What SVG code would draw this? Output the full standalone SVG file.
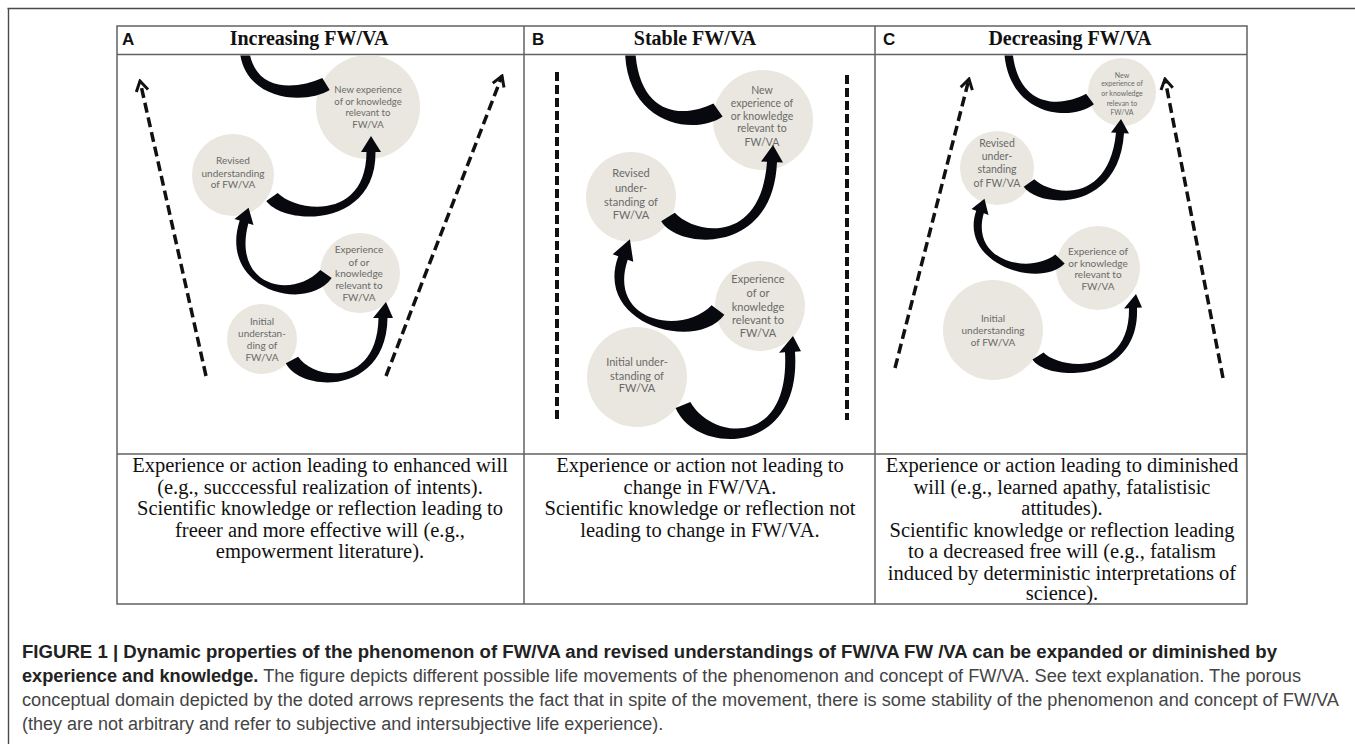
<svg xmlns="http://www.w3.org/2000/svg" width="1355" height="744" viewBox="0 0 1355 744">
<defs>
<style>
.frame{stroke:#4a4a4a;stroke-width:1.4;fill:none}
.tbl{stroke:#626262;stroke-width:1.5;fill:none}
.lbl{font-family:"Liberation Sans",Arial,sans-serif;font-weight:bold;font-size:17px;fill:#111}
.ttl{font-family:"Liberation Serif","Times New Roman",serif;font-weight:bold;font-size:20px;fill:#111;text-anchor:middle}
.body{font-family:"Liberation Serif","Times New Roman",serif;font-size:20.5px;fill:#111;text-anchor:middle}
.circ{fill:#e9e7df}
.ct{font-family:Lato,"Liberation Sans",sans-serif;fill:#6a6a6a;text-anchor:middle}
.arr{fill:#08080f}
.dash{stroke:#111;fill:none;stroke-width:3.5;stroke-dasharray:10 5}
.vdash{stroke:#111;fill:none;stroke-width:4;stroke-dasharray:9 4}
.cap{font-family:"Liberation Sans",Arial,sans-serif;font-size:18px;fill:#444}
.capb{font-weight:bold;fill:#222}
</style>
<marker id="chev" markerUnits="userSpaceOnUse" markerWidth="16" markerHeight="16" viewBox="0 0 16 16" refX="14" refY="8" orient="auto">
<path d="M4,2 L14,8 L4,14" fill="none" stroke="#111" stroke-width="3"/>
</marker>
<clipPath id="clipA"><rect x="118" y="55.5" width="405" height="398"/></clipPath>
<clipPath id="clipB"><rect x="525" y="55.5" width="349" height="398"/></clipPath>
<clipPath id="clipC"><rect x="876" y="55.5" width="370" height="398"/></clipPath>
</defs>

<g id="frame">
<line class="frame" x1="7.5" y1="8.5" x2="1355" y2="8.5"/>
<line class="frame" x1="8.5" y1="8" x2="8.5" y2="744"/>
</g>

<g id="table">
<rect class="tbl" x="117" y="26" width="1130" height="578"/>
<line class="tbl" x1="117" y1="54.5" x2="1247" y2="54.5"/>
<line class="tbl" x1="117" y1="454" x2="1247" y2="454"/>
<line class="tbl" x1="524" y1="26" x2="524" y2="604"/>
<line class="tbl" x1="875" y1="26" x2="875" y2="604"/>
</g>

<g id="headers">
<text class="lbl" x="122" y="45">A</text>
<text class="ttl" x="309" y="45">Increasing FW/VA</text>
<text class="lbl" x="532" y="45">B</text>
<text class="ttl" x="695" y="45">Stable FW/VA</text>
<text class="lbl" x="883" y="45">C</text>
<text class="ttl" x="1070" y="45">Decreasing FW/VA</text>
</g>

<!-- Panel A -->
<g id="panelA" clip-path="url(#clipA)">
<g id="A-new"><circle class="circ" cx="368" cy="107" r="52"/>
<text class="ct" font-size="9.5"><tspan x="368" y="93.3">New experience</tspan><tspan x="368" y="105.3">of or knowledge</tspan><tspan x="368" y="116.3">relevant to</tspan><tspan x="368" y="128.3">FW/VA</tspan></text></g>
<g id="A-revised"><circle class="circ" cx="233" cy="175" r="41"/>
<text class="ct" font-size="10"><tspan x="233" y="163.5">Revised</tspan><tspan x="233" y="176.5">understanding</tspan><tspan x="233" y="187.5">of FW/VA</tspan></text></g>
<g id="A-experience"><circle class="circ" cx="360" cy="273" r="40"/>
<text class="ct" font-size="10"><tspan x="359" y="252.5">Experience</tspan><tspan x="359" y="265.5">of or</tspan><tspan x="359" y="276.5">knowledge</tspan><tspan x="359" y="288.5">relevant to</tspan><tspan x="359" y="300.5">FW/VA</tspan></text></g>
<g id="A-initial"><circle class="circ" cx="262" cy="339" r="35"/>
<text class="ct" font-size="10"><tspan x="262" y="324.5">Initial</tspan><tspan x="262" y="336.5">understan-</tspan><tspan x="262" y="348.5">ding of</tspan><tspan x="262" y="360.5">FW/VA</tspan></text></g>
</g>

<!-- Panel B -->
<g id="panelB" clip-path="url(#clipB)">
<g id="B-new"><circle class="circ" cx="763" cy="120" r="50"/>
<text class="ct" font-size="10.5"><tspan x="762" y="93.7">New</tspan><tspan x="762" y="106.7">experience of</tspan><tspan x="762" y="119.7">or knowledge</tspan><tspan x="762" y="131.7">relevant to</tspan><tspan x="762" y="145.7">FW/VA</tspan></text></g>
<g id="B-revised"><circle class="circ" cx="631" cy="197" r="45"/>
<text class="ct" font-size="11"><tspan x="631" y="176.8">Revised</tspan><tspan x="631" y="191.8">under-</tspan><tspan x="631" y="205.8">standing of</tspan><tspan x="631" y="218.8">FW/VA</tspan></text></g>
<g id="B-experience"><circle class="circ" cx="760" cy="306" r="45"/>
<text class="ct" font-size="11"><tspan x="758" y="282.8">Experience</tspan><tspan x="758" y="296.8">of or</tspan><tspan x="758" y="310.8">knowledge</tspan><tspan x="758" y="323.8">relevant to</tspan><tspan x="758" y="336.8">FW/VA</tspan></text></g>
<g id="B-initial"><circle class="circ" cx="637" cy="377" r="50"/>
<text class="ct" font-size="11"><tspan x="637" y="365.8">Initial under-</tspan><tspan x="637" y="379.8">standing of</tspan><tspan x="637" y="391.8">FW/VA</tspan></text></g>
</g>

<!-- Panel C -->
<g id="panelC" clip-path="url(#clipC)">
<g id="C-new"><circle class="circ" cx="1122" cy="92" r="34"/>
<text class="ct" font-size="7"><tspan x="1122" y="77.5">New</tspan><tspan x="1122" y="85.5">experience of</tspan><tspan x="1122" y="95.5">or knowledge</tspan><tspan x="1122" y="105.5">relevan to</tspan><tspan x="1122" y="114.5">FW/VA</tspan></text></g>
<g id="C-revised"><circle class="circ" cx="997" cy="168" r="37"/>
<text class="ct" font-size="10.5"><tspan x="997" y="146.7">Revised</tspan><tspan x="997" y="159.7">under-</tspan><tspan x="997" y="172.7">standing</tspan><tspan x="997" y="186.7">of FW/VA</tspan></text></g>
<g id="C-experience"><circle class="circ" cx="1098" cy="268" r="42"/>
<text class="ct" font-size="10"><tspan x="1098" y="254.5">Experience of</tspan><tspan x="1098" y="266.5">or knowledge</tspan><tspan x="1098" y="277.5">relevant to</tspan><tspan x="1098" y="289.5">FW/VA</tspan></text></g>
<g id="C-initial"><circle class="circ" cx="993" cy="330" r="50"/>
<text class="ct" font-size="10"><tspan x="993" y="321.5">Initial</tspan><tspan x="993" y="333.5">understanding</tspan><tspan x="993" y="345.5">of FW/VA</tspan></text></g>
</g>

<g id="connectors">
<g clip-path="url(#clipA)">
<path class="arr" d="M285.8,363.3 C301.8,393.3 386.5,395 387.5,318 L393,318 L386,302 L373,318 L378.5,318 C377,388 314,380 298.2,356.7 Z"/>
<path class="arr" d="M331.7,278.1 C305.7,314.1 217.7,288.6 239.7,220.6 L234.5,218.9 L248.6,207.7 L253.5,225.1 L248.3,223.4 C232,286 291,300 320.3,269.9 Z"/>
<path class="arr" d="M266.3,201.1 C284.3,226.1 376.5,228 375.5,152 L381,152 L371,136 L361,152 L366.5,152 C366,221 297,212 277.7,192.9 Z"/>
<path class="arr" d="M329.7,90 C303.7,106 239.5,100 239.5,45 L248.5,45 C252,93 295,90 322.3,78 Z"/>
<line class="dash" x1="206" y1="376" x2="140" y2="81" marker-end="url(#chev)"/>
<line class="dash" x1="386" y1="376" x2="502" y2="76" marker-end="url(#chev)"/>
</g>
<g clip-path="url(#clipB)">
<path class="arr" d="M675.6,408.1 C695.6,455.1 802,457.7 795,351.7 L801,351.3 L793,336 L779,352.7 L785,352.3 C790,448 712,440 690.4,401.9 Z"/>
<path class="arr" d="M724.4,314.7 C696.4,352.7 593.3,324.3 618.3,256.3 L612.7,254.2 L629.9,239.2 L633.3,261.8 L627.7,259.7 C607,322 682,336 711.6,305.3 Z"/>
<path class="arr" d="M661.2,221.2 C678.2,249.2 773,256.2 777,162.2 L783,162.5 L773,145 L761,161.5 L767,161.8 C761,246 694,234 674.8,212.8 Z"/>
<path class="arr" d="M722.6,116.5 C694.6,136.5 623,125 625,45 L635,45 C637,118 684,118 713.4,103.5 Z"/>
<line class="vdash" x1="557" y1="72" x2="557" y2="420"/>
<line class="vdash" x1="847" y1="75" x2="847" y2="420"/>
</g>
<g clip-path="url(#clipC)">
<path class="arr" d="M1032.5,359.5 C1046.5,381.5 1140,384.8 1137,307.8 L1142,307.6 L1136,294 L1124,308.4 L1129,308.2 C1130,377 1059,369 1043.5,352.5 Z"/>
<path class="arr" d="M1064.7,263.5 C1039.7,289.5 958.2,263.7 976.2,210.7 L971.5,209.1 L984.5,198.7 L988.5,214.9 L983.8,213.3 C970,261 1029,275 1055.3,254.5 Z"/>
<path class="arr" d="M1023.7,186.8 C1039.7,208.8 1119,212.3 1124,133.3 L1129,133.6 L1121,119 L1111,132.4 L1116,132.7 C1109,204 1052,196 1034.3,179.2 Z"/>
<path class="arr" d="M1093.9,104.2 C1068.9,123.2 1004,115 1004,45 L1012,45 C1015,109 1060,108 1086.1,93.8 Z"/>
<line class="dash" x1="895" y1="368" x2="969" y2="79" marker-end="url(#chev)"/>
<line class="dash" x1="1223" y1="378" x2="1165" y2="79" marker-end="url(#chev)"/>
</g>
</g>

<g id="descriptions">
<text class="body"><tspan x="320" y="472">Experience or action leading to enhanced will</tspan><tspan x="320" y="493.5">(e.g., succcessful realization of intents).</tspan><tspan x="320" y="515">Scientific knowledge or reflection leading to</tspan><tspan x="320" y="536.5">freeer and more effective will (e.g.,</tspan><tspan x="320" y="558">empowerment literature).</tspan></text>
<text class="body"><tspan x="700" y="472">Experience or action not leading to</tspan><tspan x="700" y="493.5">change in FW/VA.</tspan><tspan x="700" y="515">Scientific knowledge or reflection not</tspan><tspan x="700" y="536.5">leading to change in FW/VA.</tspan></text>
<text class="body"><tspan x="1062" y="472">Experience or action leading to diminished</tspan><tspan x="1062" y="493.5">will (e.g., learned apathy, fatalistisic</tspan><tspan x="1062" y="515">attitudes).</tspan><tspan x="1062" y="536.5">Scientific knowledge or reflection leading</tspan><tspan x="1062" y="558">to a decreased free will (e.g., fatalism</tspan><tspan x="1062" y="579.5">induced by deterministic interpretations of</tspan><tspan x="1062" y="600">science).</tspan></text>
</g>

<g id="caption">
<text class="cap capb" x="22" y="658" textLength="1255" lengthAdjust="spacingAndGlyphs">FIGURE 1 | Dynamic properties of the phenomenon of FW/VA and revised understandings of FW/VA FW /VA can be expanded or diminished by</text>
<text class="cap" x="22" y="682" textLength="1279" lengthAdjust="spacingAndGlyphs"><tspan class="capb">experience and knowledge.</tspan> The figure depicts different possible life movements of the phenomenon and concept of FW/VA. See text explanation. The porous</text>
<text class="cap" x="22" y="706" textLength="1317" lengthAdjust="spacingAndGlyphs">conceptual domain depicted by the doted arrows represents the fact that in spite of the movement, there is some stability of the phenomenon and concept of FW/VA</text>
<text class="cap" x="22" y="730">(they are not arbitrary and refer to subjective and intersubjective life experience).</text>
</g>
</svg>
